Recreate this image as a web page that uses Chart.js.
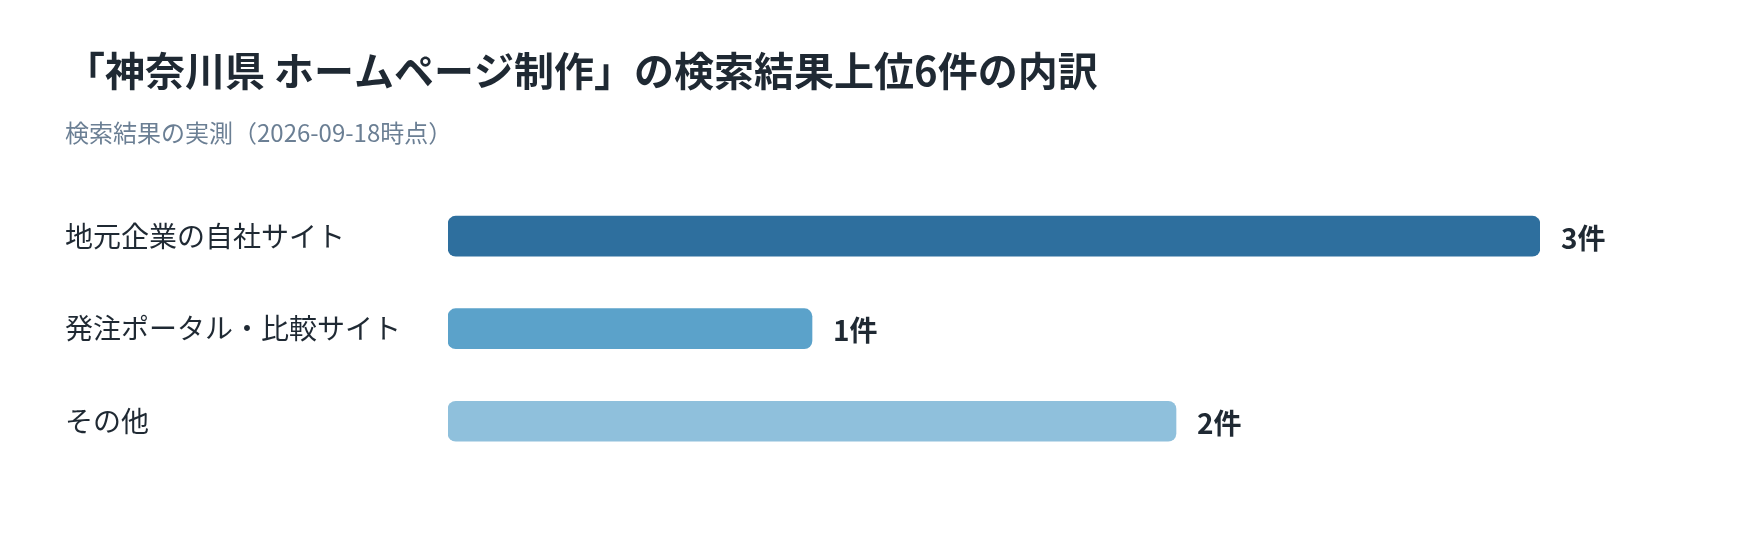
<!DOCTYPE html>
<html lang="ja">
<head>
<meta charset="utf-8">
<title>検索結果上位6件の内訳</title>
<script src="https://cdn.jsdelivr.net/npm/chart.js@4.4.1/dist/chart.umd.min.js"></script>
<style>
  html, body { margin: 0; padding: 0; background: #ffffff; }
  #wrap { width: 1760px; height: 540px; }
</style>
</head>
<body>
<div id="wrap"><canvas id="myChart" width="1760" height="540"></canvas></div>
<script>
const categories = ['地元企業の自社サイト', '発注ポータル・比較サイト', 'その他'];
const counts = [3, 1, 2];
const valueLabels = ['3件', '1件', '2件'];
const barColors = ['#2e6f9e', '#5ba2ca', '#8fc0dc'];

const FONT = "'Noto Sans CJK JP', 'Noto Sans', sans-serif";

// writes "n件" just right of each bar
const valueLabelPlugin = {
  id: 'valueLabels',
  afterDatasetsDraw(chart) {
    const ctx = chart.ctx;
    const meta = chart.getDatasetMeta(0);
    ctx.save();
    ctx.font = 'bold 28px ' + FONT;
    ctx.fillStyle = '#1f2933';
    ctx.textAlign = 'left';
    ctx.textBaseline = 'middle';
    meta.data.forEach((bar, i) => {
      ctx.fillText(valueLabels[i], bar.x + 21, bar.y + 2);
    });
    ctx.restore();
  }
};

document.addEventListener('DOMContentLoaded', () => {
  const ctx = document.getElementById('myChart').getContext('2d');
  new Chart(ctx, {
    type: 'bar',
    data: {
      labels: categories,
      datasets: [{
        data: counts,
        backgroundColor: barColors,
        borderRadius: 8,
        borderSkipped: false,
        barThickness: 40
      }]
    },
    options: {
      indexAxis: 'y',
      responsive: false,
      animation: false,
      layout: { padding: { left: 65, right: 220, top: 0, bottom: 72.5 } },
      scales: {
        x: {
          display: false,
          min: 0,
          max: 3
        },
        y: {
          grid: { display: false },
          border: { display: false },
          ticks: {
            crossAlign: 'far',
            color: '#1f2933',
            font: { family: FONT, size: 28 }
          },
          afterFit(scale) { scale.width = 383; }
        }
      },
      plugins: {
        legend: { display: false },
        tooltip: { enabled: false },
        title: {
          display: true,
          text: '「神奈川県 ホームページ制作」の検索結果上位6件の内訳',
          align: 'start',
          color: '#1f2933',
          font: { family: FONT, size: 40, weight: 'bold', lineHeight: 1.2 },
          padding: { top: 46.5, bottom: 23.6 }
        },
        subtitle: {
          display: true,
          text: '検索結果の実測（2026-09-18時点）',
          align: 'start',
          color: '#6b7f94',
          font: { family: FONT, size: 24, lineHeight: 1.2 },
          padding: { top: 0, bottom: 43 }
        }
      }
    },
    plugins: [valueLabelPlugin]
  });
});
</script>
</body>
</html>
